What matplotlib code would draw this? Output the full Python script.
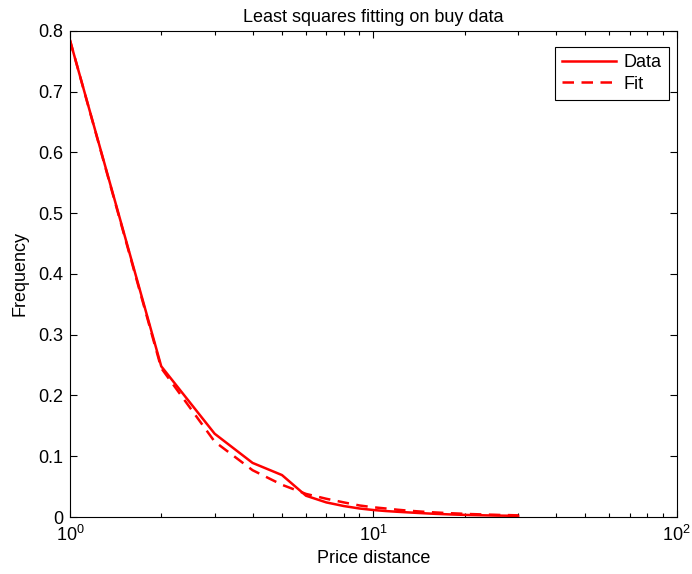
import matplotlib
matplotlib.use("Agg")
import matplotlib.pyplot as plt
from matplotlib.ticker import FixedLocator, FixedFormatter

plt.rcParams['font.family'] = ['Liberation Sans', 'DejaVu Sans']

x = list(range(1, 31))
data = [0.785, 0.248, 0.137, 0.089, 0.069, 0.035, 0.024, 0.018, 0.014, 0.0115,
        0.0098, 0.0086, 0.0076, 0.0067, 0.0059, 0.0052, 0.0047, 0.0042, 0.0038, 0.0035,
        0.0032, 0.0030, 0.0028, 0.0026, 0.0024, 0.0023, 0.0022, 0.0021, 0.0020, 0.0019]
fit = [0.785, 0.245, 0.124, 0.077, 0.053, 0.038, 0.030, 0.024, 0.019, 0.016,
       0.014, 0.012, 0.0105, 0.0093, 0.0083, 0.0075, 0.0068, 0.0062, 0.0057, 0.0052,
       0.0048, 0.0045, 0.0042, 0.0039, 0.0037, 0.0034, 0.0032, 0.0031, 0.0029, 0.0027]

yticks = [0, 0.1, 0.2, 0.3, 0.4, 0.5, 0.6, 0.7, 0.8]
ytick_labels = ['0', '0.1', '0.2', '0.3', '0.4', '0.5', '0.6', '0.7', '0.8']

FS = 13
fig = plt.figure(figsize=(6.92, 5.74), dpi=100)
ax = fig.add_axes([0.101, 0.0993, 0.877, 0.847])
ax.plot(x, data, color='red', lw=1.8, label='Data')
ax.plot(x, fit, color='red', lw=1.8, linestyle=(0, (4.6, 3.0)), label='Fit')
ax.set_xscale('log')
ax.set_xlim(1, 100)
ax.set_ylim(0, 0.8)
ax.yaxis.set_major_locator(FixedLocator(yticks))
ax.yaxis.set_major_formatter(FixedFormatter(ytick_labels))
ax.tick_params(which='both', direction='in', top=True, right=True, labelsize=FS)
ax.tick_params(which='major', length=5, width=0.8)
ax.tick_params(which='minor', length=3, width=0.8)
ax.tick_params(axis='x', which='major', pad=6)
ax.tick_params(axis='y', which='major', pad=5)
for s in ax.spines.values():
    s.set_linewidth(0.8)
ax.set_title('Least squares fitting on buy data', fontsize=FS, pad=6)
ax.set_xlabel('Price distance', fontsize=FS, labelpad=3)
ax.set_ylabel('Frequency', fontsize=FS, labelpad=7)
leg = ax.legend(loc='upper right', bbox_to_anchor=(0.987, 0.967), borderaxespad=0,
                fontsize=FS, fancybox=False, framealpha=1, edgecolor='black',
                handlelength=3.0, handletextpad=0.4, labelspacing=0.25,
                borderpad=0.4)
leg.get_frame().set_linewidth(0.8)
fig.savefig('out.png', dpi=100)
